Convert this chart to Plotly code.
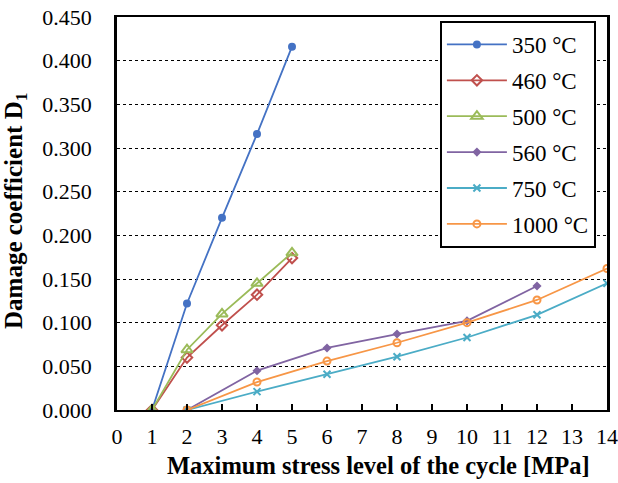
import plotly.graph_objects as go

x_short = [1, 2, 3, 4, 5]
d_350 = [0.0, 0.122, 0.220, 0.316, 0.416]
d_460 = [0.0, 0.060, 0.097, 0.132, 0.174]
d_500 = [0.0, 0.069, 0.110, 0.145, 0.180]
x_560 = [2, 4, 6, 8, 10, 12]
d_560 = [0.0, 0.045, 0.071, 0.087, 0.102, 0.142]
x_long = [2, 4, 6, 8, 10, 12, 14]
d_750 = [0.0, 0.021, 0.041, 0.061, 0.083, 0.109, 0.145]
d_1000 = [0.0, 0.032, 0.056, 0.077, 0.100, 0.126, 0.162]

x_title = "<b>Maximum stress level of the cycle [MPa]</b>"
y_title = "<b>Damage coefficient D<sub>1</sub></b>"

series = [
    ("350 °C", x_short, d_350, "#4472C4", dict(symbol="circle", size=8)),
    ("460 °C", x_short, d_460, "#C0504D", dict(symbol="diamond-open", size=8, line=dict(width=2))),
    ("500 °C", x_short, d_500, "#9BBB59", dict(symbol="triangle-up-open", size=10, line=dict(width=2))),
    ("560 °C", x_560, d_560, "#8064A2", dict(symbol="diamond", size=7)),
    ("750 °C", x_long, d_750, "#4BACC6", dict(symbol="x-thin-open", size=7, line=dict(width=2))),
    ("1000 °C", x_long, d_1000, "#F79646", dict(symbol="circle-open", size=7, line=dict(width=2))),
]

SERIF = "Liberation Serif, Times New Roman, serif"

fig = go.Figure()
for name, xs, ys, col, mk in series:
    mk = dict(mk)
    mk["color"] = col
    if "line" in mk:
        mk["line"] = dict(mk["line"], color=col)
    fig.add_trace(go.Scatter(x=xs, y=ys, name=name, mode="lines+markers",
                             legendgroup=name,
                             line=dict(color=col, width=1.8), marker=mk))

fig.update_layout(
    width=618, height=483,
    margin=dict(l=117, r=11, t=17, b=73),
    paper_bgcolor="white", plot_bgcolor="white",
    font=dict(family=SERIF, size=22, color="black"),
    showlegend=True,
    legend=dict(x=0.659, y=0.99, xanchor="left", yanchor="top",
                bgcolor="white", bordercolor="black", borderwidth=2,
                font=dict(size=23, family=SERIF),
                itemwidth=60, tracegroupgap=3),
    xaxis=dict(range=[0, 14], dtick=1, tick0=0, showgrid=False,
               showline=True, linecolor="black", linewidth=2, mirror=True,
               ticks="inside", ticklen=6, tickcolor="black", tickwidth=1.5,
               ticklabelstandoff=6, automargin=False, zeroline=False),
    yaxis=dict(range=[0, 0.45], dtick=0.05, tickformat=".3f",
               showgrid=True, gridcolor="black", griddash="dot", gridwidth=1,
               showline=True, linecolor="black", linewidth=2.5, mirror=True,
               ticks="", zeroline=False, automargin=False,
               ticklabelstandoff=18),
    annotations=[
        dict(text=x_title, xref="paper", yref="paper",
             x=(378 - 117) / 490, y=-(465 - 410) / 393,
             xanchor="center", yanchor="middle", showarrow=False,
             font=dict(size=24.5, family=SERIF)),
        dict(text=y_title, xref="paper", yref="paper",
             x=-(117 - 15) / 490, y=(410 - 211) / 393,
             xanchor="center", yanchor="middle", showarrow=False,
             textangle=-90, font=dict(size=25, family=SERIF)),
    ],
)

fig.write_html("out.html")
